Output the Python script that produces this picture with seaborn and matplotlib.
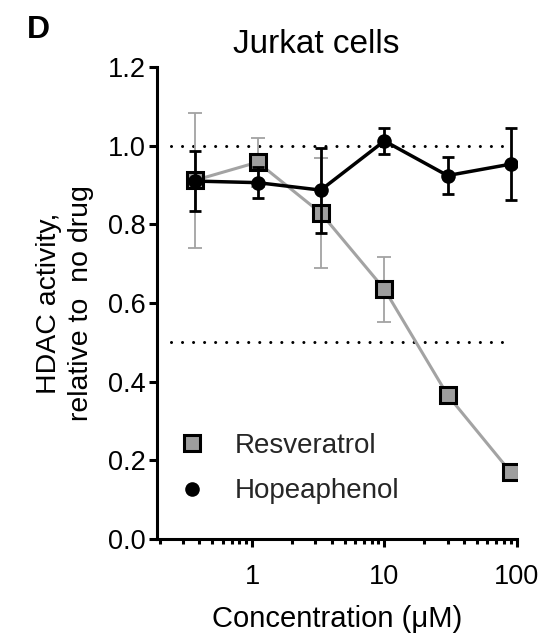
import numpy as np
import pandas as pd
import matplotlib
matplotlib.use("Agg")
import matplotlib.pyplot as plt
import matplotlib.ticker as mticker
import seaborn as sns

# Concentrations tested (uM), 3-fold dilution series
conc = [0.37, 1.1, 3.3, 10, 30, 90]

# HDAC activity relative to untreated, mean and error
resveratrol = [0.912, 0.958, 0.829, 0.635, 0.366, 0.170]
resveratrol_err = [0.172, 0.062, 0.139, 0.083, 0.012, 0.020]
hopeaphenol = [0.910, 0.906, 0.887, 1.012, 0.924, 0.953]
hopeaphenol_err = [0.076, 0.040, 0.108, 0.034, 0.046, 0.092]

y_ticks = [0.0, 0.2, 0.4, 0.6, 0.8, 1.0, 1.2]
x_ticks = [1, 10, 100]
ref_levels = [1.0, 0.5]

sns.set_theme(style="ticks")
plt.rcParams["font.family"] = ["Liberation Sans", "DejaVu Sans"]

df = pd.DataFrame({
    "conc": conc * 2,
    "activity": resveratrol + hopeaphenol,
    "compound": ["Resveratrol"] * len(conc) + ["Hopeaphenol"] * len(conc),
})

fig = plt.figure(figsize=(5.58, 6.40), dpi=100)
ax = fig.add_axes([156.7 / 558, 1 - 539 / 640, 360 / 558, 472 / 640])

grey = "#a3a3a3"

# dotted reference lines (no inhibition, half inhibition)
for lvl in ref_levels:
    ax.hlines(lvl, 0.243, 85, colors="black", linewidth=2.2,
              linestyles=(0, (0.01, 3.6)), zorder=1)
for coll in ax.collections:
    coll.set_capstyle("round")

# Resveratrol
ax.errorbar(conc, resveratrol, yerr=resveratrol_err, fmt="none",
            ecolor=grey, elinewidth=1.3, capsize=5, capthick=1.3, zorder=2)
sns.lineplot(data=df[df.compound == "Resveratrol"], x="conc", y="activity",
             ax=ax, color=grey, linewidth=2.2, marker="s", markersize=12,
             markerfacecolor="#9e9e9e", markeredgecolor="black",
             markeredgewidth=2.2, label="Resveratrol", zorder=3)

# Hopeaphenol
ax.errorbar(conc, hopeaphenol, yerr=hopeaphenol_err, fmt="none",
            ecolor="black", elinewidth=2.0, capsize=4.5, capthick=2.0, zorder=4)
sns.lineplot(data=df[df.compound == "Hopeaphenol"], x="conc", y="activity",
             ax=ax, color="black", linewidth=2.5, marker="o", markersize=10.5,
             markerfacecolor="black", markeredgecolor="black",
             markeredgewidth=0, label="Hopeaphenol", zorder=5)

ax.set_xscale("log")
ax.set_xlim(0.19, 100)
ax.set_ylim(0, 1.2)

ax.set_yticks(y_ticks)
ax.set_yticklabels([f"{v:.1f}" for v in y_ticks])
ax.xaxis.set_major_locator(mticker.FixedLocator(x_ticks))
ax.xaxis.set_major_formatter(mticker.FixedFormatter([str(v) for v in x_ticks]))
ax.xaxis.set_minor_locator(mticker.LogLocator(base=10, subs=np.arange(2, 10)))
ax.xaxis.set_minor_formatter(mticker.NullFormatter())

for side in ["top", "right"]:
    ax.spines[side].set_visible(False)
for side in ["left", "bottom"]:
    ax.spines[side].set_linewidth(2.2)
    ax.spines[side].set_color("black")

ax.tick_params(axis="both", which="major", direction="out", length=6,
               width=2.2, color="black", labelsize=19.5, pad=2,
               labelcolor="black")
ax.tick_params(axis="x", which="major", pad=12)
ax.tick_params(axis="x", which="minor", direction="out", length=3.5,
               width=2.2, color="black")
ax.tick_params(axis="y", which="minor", length=0)

ax.set_xlabel("Concentration (\u03bcM)", fontsize=21, labelpad=11,
              color="black")
ax.set_ylabel("HDAC activity,\nrelative to  no drug", fontsize=20.5,
              labelpad=10, color="black", linespacing=1.3)

leg = ax.legend(loc="lower left", bbox_to_anchor=(0.02, 0.05), frameon=False,
                fontsize=20, handlelength=1.2, handletextpad=0.95,
                labelspacing=0.7, borderaxespad=0)
for h in leg.legend_handles:
    h.set_linestyle("none")

fig.text(316 / 558, 1 - 53 / 640, "Jurkat cells", ha="center",
         va="baseline", fontsize=24, color="black")
fig.text(27 / 558, 1 - 38 / 640, "D", ha="left", va="baseline",
         fontsize=23, fontweight="bold", color="black")

fig.savefig("out.png", dpi=100, facecolor="white")
